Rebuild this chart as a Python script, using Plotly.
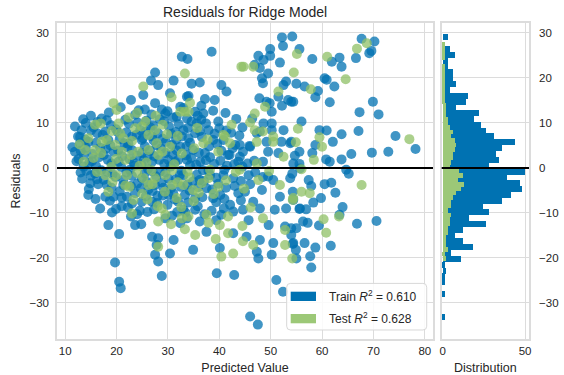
import plotly.graph_objects as go

# ---- Residuals (predicted value, residual) for the training split ----
train_pred = [
    54.2, 52.2, 52.4, 49.9, 55.6, 58.1, 67.7, 70.2, 69.6, 69.2, 66.6, 63.4, 61.9, 63.8, 60.5, 60.9, 55.0, 56.6, 59.2, 58.7,
    62.4, 54.0, 61.5, 69.9, 47.6, 48.6, 49.9, 46.9, 47.9, 51.8, 49.5, 48.3, 48.5, 52.5, 53.0, 47.8, 49.2, 52.2, 53.4, 54.4,
    51.5, 49.8, 38.5, 32.7, 33.8, 27.5, 31.1, 34.6, 36.2, 26.7, 28.1, 40.4, 41.4, 30.4, 34.0, 37.2, 39.1, 22.8, 25.2, 27.5,
    33.7, 32.4, 35.3, 36.9, 38.8, 25.5, 28.8, 23.6, 21.7, 31.0, 36.5, 39.8, 15.0, 17.1, 29.5, 31.7, 50.2,
    67.3, 71.0, 56.0, 59.5, 60.9, 63.8, 67.1, 74.3, 62.1, 58.7, 54.0, 78.2, 72.9, 69.7, 65.7, 63.8, 61.5, 60.8, 58.1, 54.7,
    55.6, 50.2, 50.2, 47.3, 45.9, 52.5, 47.9, 52.1, 53.8, 49.2, 46.0, 43.1, 44.6, 42.0, 49.5, 51.5, 55.6, 48.5, 43.7, 54.4,
    36.3, 33.7, 37.2, 34.9, 32.4, 38.8, 40.8, 34.0, 33.0, 35.3, 37.9, 35.6, 33.7, 44.0, 41.7, 44.0, 11.9, 13.2, 16.2, 17.8,
    24.6, 23.0, 24.9, 26.9, 12.9, 14.5, 18.4, 11.9, 13.6, 17.5, 19.4, 23.0, 24.9, 29.5, 30.8, 32.7, 20.4, 26.9, 30.1, 32.0,
    13.6,
    64.7, 65.2, 54.2, 57.4, 57.9, 60.5, 61.8, 62.6, 54.3, 59.8, 58.3, 64.0, 55.6, 56.9, 63.4, 70.6, 66.8, 59.4, 56.3, 57.2,
    54.0, 54.0, 54.3, 56.6, 61.7, 58.7, 54.9, 57.7, 57.9, 46.0, 47.5, 51.1, 52.4, 19.7, 20.5, 20.8, 28.8, 39.5, 42.9,
    15.8, 14.9, 14.5, 18.1, 17.8, 19.4, 21.3, 22.0, 23.6, 24.9, 26.9, 24.9, 27.5, 30.1, 32.0, 19.1, 18.4, 23.6, 24.8, 20.5,
    26.9, 28.1, 27.8, 27.5, 30.4, 31.1, 28.1, 32.4, 33.0, 29.5,
    33.0, 34.9, 36.2, 38.2, 40.8, 42.7, 45.7, 49.5, 50.5, 53.8, 55.7, 33.3, 35.3, 38.8, 43.7, 45.0, 48.3, 51.8, 54.4, 46.6,
    42.1, 42.7, 44.6, 47.9, 50.8, 53.0, 55.7, 33.7, 36.2, 39.4, 40.4, 45.7, 49.6, 52.8, 55.0, 37.5, 42.7, 45.3, 47.9, 50.5,
    54.4, 34.9, 40.1, 47.3, 50.2, 55.0, 47.6,
    12.5, 14.0, 15.5, 16.8, 18.9, 20.2, 19.0, 21.5, 22.5, 15.2, 17.0, 19.8, 21.9, 23.5, 16.2, 13.0, 12.2, 14.0,
    25.8, 27.1, 28.4, 30.2, 31.5, 29.0, 27.8, 25.5, 26.0, 28.3, 30.9, 33.5, 35.5, 29.5, 27.0, 25.5, 31.5, 28.8, 26.2, 24.0,
    30.6, 32.5, 34.2, 28.0, 29.9, 26.0, 24.5, 31.8, 35.8, 37.5, 39.8, 40.2, 38.5, 36.8, 39.0, 41.5, 21.0, 22.8, 16.8, 38.0,
    40.0, 42.3, 36.5, 44.5, 45.5, 47.0, 43.0,
    18.5, 24.3, 26.8, 29.9, 33.0, 35.8, 20.8, 41.2,
    13.5, 16.3, 18.1, 22.4, 24.1, 26.6, 29.3, 32.1, 34.6, 37.4, 43.3, 46.4,
    12.9, 15.0, 17.3, 19.9, 21.9, 23.9, 25.7, 28.1, 30.6, 33.9, 36.2, 39.1, 41.4, 43.9, 48.6,
    13.9, 16.0, 18.8, 20.6, 22.3, 25.1, 27.2, 29.6, 31.6, 34.3, 36.6, 39.6, 42.6,
    11.4, 13.0, 15.3, 17.9, 20.3, 22.1, 24.0, 26.5, 28.7, 31.7, 33.6, 36.0, 38.2, 40.4,
    12.6, 14.7, 16.6, 18.3, 21.1, 23.2, 25.3, 27.4, 29.3, 31.4, 34.5, 37.4, 40.2, 42.9,
    14.1, 16.0, 18.2, 20.9, 22.6, 24.8, 26.1, 28.4, 30.5, 32.6, 34.3, 37.9, 41.0, 44.5, 46.8,
    13.3, 15.0, 17.5, 19.2, 21.3, 23.0, 25.9, 27.7, 30.1, 32.3, 35.6, 37.0, 39.4, 44.2, 48.5,
    14.6, 16.4, 19.0, 20.6, 22.8, 24.7, 27.0, 29.1, 31.0, 33.8, 35.9, 38.6, 41.3, 46.0,
    15.9, 18.7, 21.0, 23.0, 25.7, 27.9, 29.0, 31.3, 33.9, 36.7, 39.4, 41.0, 44.2,
    19.9, 22.2, 24.0, 27.3, 30.8, 33.4, 35.3, 37.1, 40.9,
]
train_resid = [
    29.2, 29.0, 27.1, 26.4, 26.4, 24.2, 28.7, 28.1, 26.0, 25.5, 24.4, 24.5, 23.6, 22.5, 19.9, 19.6, 18.7, 18.1, 17.1, 15.7,
    18.1, 14.7, 14.6, 14.7, 24.9, 24.0, 24.9, 22.9, 22.2, 23.4, 21.0, 19.9, 18.8, 18.4, 19.2, 15.5, 14.7, 13.8, 15.1, 14.7,
    15.8, 14.4, 25.8, 24.7, 24.2, 21.2, 19.4, 18.7, 19.0, 19.4, 18.4, 18.4, 17.0, 16.6, 16.0, 15.3, 15.1, 15.1, 16.2, 14.4,
    15.8, 13.6, 12.5, 12.1, 12.7, 13.0, 13.0, 11.8, 10.7, 11.2, 10.7, 10.3, 11.6, 11.0, 12.1, 11.4, 12.5,
    12.4, 11.9, 10.3, 8.4, 8.3, 7.5, 8.2, 7.1, 5.8, 5.1, 5.8, 4.2, 3.6, 3.4, 3.1, 1.9, 1.4, 1.9, 3.3, 2.7,
    0.9, 9.9, 8.4, 7.7, 4.9, 8.4, 8.1, 5.8, 5.5, 5.8, 4.7, 5.1, 3.6, 2.9, 3.6, 3.3, 3.6, 1.4, 1.4, 1.0,
    1.4, 1.8, 3.3, 4.0, 4.7, 6.2, 6.2, 6.6, 8.4, 7.7, 8.4, 9.9, 11.0, 5.1, 2.9, 2.5, 9.2, 8.4, 7.7, 8.1,
    8.4, 7.0, 6.2, 7.0, 5.5, 5.8, 6.2, 3.6, 2.9, 2.9, 3.6, 4.0, 3.3, 3.3, 5.1, 7.0, 1.4, 1.4, 1.8, 1.8,
    0.3,
    -0.4, -1.3, -1.3, -2.7, -4.0, -3.6, -3.3, -5.5, -5.3, -6.7, -7.7, -8.7, -9.1, -9.2, -10.4, -11.8, -12.4, -12.8, -11.9, -12.2,
    -13.4, -14.9, -16.9, -16.7, -17.3, -17.7, -18.2, -19.6, -22.1, -33.0, -34.8, -24.9, -27.5, -21.0, -25.3, -26.7, -24.0, -23.4, -23.8,
    -1.2, -3.4, -6.0, -3.8, -6.4, -6.4, -3.8, -6.4, -5.6, -7.5, -7.5, -2.3, -3.8, -6.0, -7.5, -9.9, -12.7, -12.7, -12.5, -14.7,
    -15.3, -15.6, -17.1, -19.3, -19.0, -16.0, -20.8, -12.3, -9.3, -11.2,
    -1.6, -3.0, -2.7, -1.6, -1.6, -2.3, -1.6, -1.9, -2.7, -2.3, -0.1, -6.0, -6.7, -6.7, -5.6, -5.3, -4.9, -6.4, -7.1, -7.5,
    -8.2, -9.7, -9.3, -9.0, -9.3, -9.0, -9.0, -11.2, -11.9, -11.6, -10.4, -11.6, -12.7, -13.0, -13.4, -14.2, -14.5, -15.3, -16.0, -16.7,
    -16.7, -18.2, -17.8, -18.6, -19.3, -20.1, -20.1,
    7.0, 10.0, 9.0, 4.5, 9.5, 8.0, 1.0, 5.5, 2.0, 1.5, -0.5, -2.0, -1.0, 0.5, -2.5, -1.0, 1.5, 4.5,
    10.5, 9.5, 10.8, 9.2, 8.0, 6.5, 5.0, 4.8, 2.5, 1.8, 3.0, 2.8, 0.7, -1.0, -0.8, -1.2, -2.5, -3.2, -4.8, -3.5,
    -4.5, -4.2, -5.0, -6.2, -8.2, -9.8, -9.5, -9.8, -8.5, -4.5, -3.5, -6.0, -9.5, -0.5, 0.9, 0.5, -8.5, -10.8, -9.0, 4.8,
    8.8, 7.8, 13.8, 9.0, 1.0, -1.0, -4.0,
    12.3, 12.8, 11.9, 12.6, 13.3, 11.6, 13.5, 12.2,
    10.8, 10.2, 10.6, 9.8, 10.1, 9.0, 10.4, 9.7, 10.3, 9.9, 10.9, 11.0,
    6.9, 8.3, 7.3, 8.6, 7.9, 7.4, 8.1, 7.7, 7.6, 8.9, 8.2, 7.6, 8.3, 7.2, 9.9,
    6.3, 5.6, 5.0, 6.4, 5.4, 6.6, 6.1, 5.8, 6.3, 5.6, 6.9, 5.3, 4.4,
    4.6, 3.8, 3.1, 4.3, 3.9, 4.6, 2.7, 3.8, 4.3, 3.9, 4.8, 3.4, 2.4, 3.8,
    2.0, 1.2, 2.4, 1.8, 2.6, 1.4, 1.7, 2.6, 0.9, 1.3, 2.2, 1.7, 1.6, 0.8,
    -0.6, 0.4, -0.9, 0.2, -0.4, 0.8, -0.2, -0.9, 0.3, -0.6, 0.6, -0.7, -0.4, 0.3, 1.6,
    -2.4, -1.7, -2.6, -1.4, -2.7, -1.8, -3.1, -1.9, -2.4, -1.6, -1.5, -2.9, -2.2, -2.9, -2.0,
    -4.7, -3.6, -4.4, -5.2, -4.0, -4.5, -5.1, -4.4, -5.6, -3.7, -4.3, -4.8, -4.4, -3.6,
    -6.9, -7.3, -6.6, -7.9, -6.3, -7.8, -6.1, -7.0, -7.7, -6.5, -7.6, -6.9, -7.2,
    -9.1, -8.8, -10.3, -9.2, -10.6, -9.9, -9.3, -10.3, -9.0,
]

# ---- Residuals for the test split ----
test_pred = [
    55.1, 61.0, 66.8, 68.7, 54.5, 64.6, 57.8, 55.3, 59.5, 77.0, 54.9, 60.0, 58.4, 56.0, 67.7, 56.0, 57.6, 54.3, 60.3, 63.3,
    60.8, 54.2, 44.3, 33.3, 25.2, 30.7, 34.3, 19.4, 20.0, 34.0, 42.4, 42.1, 14.5, 41.1, 39.8, 44.7, 46.6, 51.5, 48.9, 46.9,
    46.0, 50.5, 33.3, 46.9, 48.5, 40.8, 47.3, 50.5, 36.9, 47.3, 52.5, 38.2, 44.0, 15.8, 20.4, 23.6, 25.6, 27.5, 20.7, 21.3,
    17.1, 18.1, 19.7, 13.9, 15.8, 15.5, 21.0, 24.2, 26.2, 28.1, 21.7, 27.8, 32.4, 30.4, 17.8, 20.0, 22.0, 25.2, 18.4, 23.3,
    23.0, 26.2, 27.5, 29.5, 30.8, 31.7, 28.8, 29.5, 28.1, 28.1, 32.7, 33.0, 34.9, 39.8, 37.9, 47.6, 51.8, 54.4, 34.0, 37.5,
    41.7, 48.5, 52.8, 40.1, 41.7, 44.6, 46.6, 40.4, 42.7, 52.8, 35.3, 24.5, 26.8, 31.2, 22.5, 25.0, 33.8, 36.0, 19.0, 29.8,
    24.0,
    16.9, 19.1, 22.3, 24.9, 27.6, 23.0, 26.2, 29.0, 31.9, 35.7, 17.0, 19.9, 22.9, 25.8, 28.9, 32.7, 35.1, 37.7, 16.2, 19.2,
    21.7, 24.0, 27.0, 29.4, 31.9, 34.2, 36.6, 38.9, 41.3, 43.2, 26.0, 28.0, 32.6, 35.0, 30.6, 33.3, 37.9, 44.8, 46.1, 49.7,
    44.5, 39.3, 13.6, 12.8, 30.8,
]
test_resid = [
    25.3, 24.7, 26.5, 27.7, 21.2, 19.7, 17.5, 8.7, 6.8, 6.4, 5.7, 4.7, 1.8, -0.3, -3.8, -5.3, -5.6, -7.1, -11.4, -10.8,
    -14.4, -20.1, 22.5, 21.0, 18.1, 15.7, 14.5, 14.4, 12.9, 12.5, 9.6, 5.5, 6.6, 7.0, 3.6, 22.5, 22.5, 17.0, 13.6, 12.1,
    10.1, 7.0, 12.5, 8.4, 8.1, 7.3, 5.8, 5.8, 5.5, 1.0, 2.5, -0.4, -0.4, 9.6, 9.9, 8.8, 10.3, 8.4, 7.7, 6.6,
    5.8, 6.2, 5.1, 4.0, 4.0, 2.2, 3.6, 3.6, 4.0, 2.9, 1.8, 5.5, 12.5, 4.7, -1.6, -1.6, -1.6, -2.3, -5.3, -7.1,
    -10.1, -3.8, -2.3, -1.6, -3.8, -6.7, -9.0, -10.4, -11.9, -17.5, -11.2, -3.8, -4.9, -4.2, -2.3, -2.7, -3.8, -6.7, -10.8, -10.4,
    -10.8, -11.2, -13.8, -12.7, -14.5, -16.3, -17.1, -19.7, -19.0, -17.1, -14.9, 0.5, -0.5, 0.8, -4.2, -5.8, -0.8, -5.5, 0.2, 7.5,
    12.2,
    9.9, 8.2, 11.2, 9.2, 11.6, 6.0, 7.3, 9.6, 7.1, 8.9, 3.3, 2.0, 2.9, 1.2, 3.6, 3.2, 4.4, 6.3, -0.9, -3.1,
    -3.9, -1.1, -3.6, -5.3, -3.2, -2.1, -3.4, -5.8, -2.8, -0.9, -7.0, -8.5, -8.7, -7.4, -12.5, -13.6, -12.2, -4.6, -8.8, -0.7,
    -12.9, -15.8, 1.4, 5.2, -0.5,
]

# ---- Residual distribution: 50 bins per split, counts listed from the top bin down ----
train_bin_top, train_bin_width = 29.65, 1.295
train_counts = [3, 0, 4, 7, 3, 3, 6, 6, 8, 4, 15, 14, 8, 22, 19, 23, 26, 31, 44, 36,
                32, 34, 28, 50, 39, 47, 48, 41, 36, 24, 28, 16, 26, 12, 7, 12, 18, 5, 11, 1,
                2, 1, 1, 0, 1, 0, 0, 0, 1, 0]
test_bin_top, test_bin_width = 27.9, 0.97
test_counts = [1, 1, 1, 1, 0, 1, 1, 1, 1, 1, 1, 1, 1, 1, 2, 2, 2, 3, 3, 4,
               6, 5, 7, 8, 7, 6, 6, 5, 4, 10, 12, 9, 13, 11, 8, 6, 5, 5, 3, 5,
               4, 4, 3, 3, 2, 2, 2, 3, 1, 2]

train_r2 = 0.610
test_r2 = 0.628

x_ticks = [10, 20, 30, 40, 50, 60, 70, 80]
y_ticks = [-30, -20, -10, 0, 10, 20, 30]
dist_ticks = [0, 50]

TRAIN_COLOR = "#0072B2"
TEST_COLOR = "#8FC065"
TEST_BAR = "#9CC877"
GRID = "#DCDCDC"
TEXT = "#262626"
FONT = "Liberation Sans, Arial, sans-serif"


def bin_centers(top, width, n):
    return [top - width * (i + 0.5) for i in range(n)]


fig = go.Figure()

fig.add_trace(go.Scatter(
    x=train_pred, y=train_resid, mode="markers", showlegend=False,
    marker=dict(color=TRAIN_COLOR, size=10, opacity=0.75, line=dict(width=0)),
    xaxis="x", yaxis="y",
))
fig.add_trace(go.Scatter(
    x=test_pred, y=test_resid, mode="markers", showlegend=False,
    marker=dict(color=TEST_COLOR, size=10, opacity=0.75, line=dict(width=0)),
    xaxis="x", yaxis="y",
))

# bars drawn a touch wider than their bin so neighbouring bins butt together cleanly
fig.add_trace(go.Bar(
    x=train_counts, y=bin_centers(train_bin_top, train_bin_width, len(train_counts)),
    width=train_bin_width * 1.04, orientation="h", showlegend=False,
    marker=dict(color=TRAIN_COLOR, line=dict(width=0)),
    xaxis="x2", yaxis="y2",
))
fig.add_trace(go.Bar(
    x=test_counts, y=bin_centers(test_bin_top, test_bin_width, len(test_counts)),
    width=test_bin_width * 1.04, orientation="h", showlegend=False,
    marker=dict(color=TEST_BAR, line=dict(width=0)),
    xaxis="x2", yaxis="y2",
))


def axis_style(ticklen):
    return dict(
        showgrid=True, gridcolor=GRID, gridwidth=1.2,
        showline=True, linecolor=GRID, linewidth=1.5, mirror=True,
        zeroline=False, ticks="outside" if ticklen else "", ticklen=ticklen,
        tickcolor="rgba(0,0,0,0)",
        tickfont=dict(family=FONT, size=11.5, color=TEXT), automargin=False,
    )


main_dom = [0.0, 0.7966]
hist_dom = [0.815, 1.0]
y_range = [-38.0, 32.2]

fig.update_layout(
    width=564, height=375,
    margin=dict(l=57, r=35, t=23, b=36),
    paper_bgcolor="white", plot_bgcolor="white",
    barmode="overlay", bargap=0,
    font=dict(family=FONT, color=TEXT),
    xaxis=dict(domain=main_dom, range=[8.4, 81.6], tickvals=x_ticks, anchor="y",
               title=dict(text="Predicted Value", font=dict(size=12.5, color=TEXT), standoff=11),
               **axis_style(0)),
    yaxis=dict(domain=[0, 1], range=y_range, tickvals=y_ticks, anchor="x",
               title=dict(text="Residuals", font=dict(size=12.5, color=TEXT), standoff=6),
               **axis_style(4)),
    xaxis2=dict(domain=hist_dom, range=[-0.6, 52.4], tickvals=dist_ticks, anchor="y2",
                title=dict(text="Distribution", font=dict(size=12.5, color=TEXT), standoff=11),
                **axis_style(0)),
    yaxis2=dict(domain=[0, 1], range=y_range, tickvals=y_ticks, anchor="x2", side="right",
                **axis_style(6)),
)

# horizontal reference line at zero residual, across both panels
for xr, yr in (("x domain", "y"), ("x2 domain", "y2")):
    fig.add_shape(type="line", xref=xr, yref=yr, x0=0, x1=1, y0=0, y1=0,
                  line=dict(color="black", width=2), layer="above")

# title over the scatter panel
fig.add_annotation(text="Residuals for Ridge Model", xref="paper", yref="paper",
                   x=(main_dom[0] + main_dom[1]) / 2, y=1.0, yshift=11,
                   showarrow=False, font=dict(family=FONT, size=14, color=TEXT),
                   xanchor="center", yanchor="middle")

# legend box with wide colour swatches
bx0, bx1, by0, by1, r = 0.4866, 0.7833, 0.0285, 0.176, 0.008
ry = r * 472 / 316
legend_path = (
    f"M {bx0 + r},{by0} L {bx1 - r},{by0} Q {bx1},{by0} {bx1},{by0 + ry} "
    f"L {bx1},{by1 - ry} Q {bx1},{by1} {bx1 - r},{by1} "
    f"L {bx0 + r},{by1} Q {bx0},{by1} {bx0},{by1 - ry} "
    f"L {bx0},{by0 + ry} Q {bx0},{by0} {bx0 + r},{by0} Z"
)
fig.add_shape(type="path", path=legend_path, xref="paper", yref="paper",
              fillcolor="rgba(255,255,255,0.85)", line=dict(color="#D8D8D8", width=1),
              layer="above")

entries = [("Train", train_r2, TRAIN_COLOR, 0.1203, 0.1497, 0.1361),
           ("Test", test_r2, TEST_BAR, 0.0497, 0.0791, 0.0674)]
for name, r2, col, sy0, sy1, ty in entries:
    fig.add_shape(type="rect", xref="paper", yref="paper",
                  x0=0.4951, x1=0.5487, y0=sy0, y1=sy1,
                  fillcolor=col, line=dict(width=0), layer="above")
    fig.add_annotation(text=f"{name} <i>R</i><sup>2</sup> = {r2:.3f}",
                       xref="paper", yref="paper", x=0.5714, y=ty,
                       xanchor="left", yanchor="middle", showarrow=False,
                       font=dict(family=FONT, size=12, color=TEXT))

fig.write_html("out.html")
